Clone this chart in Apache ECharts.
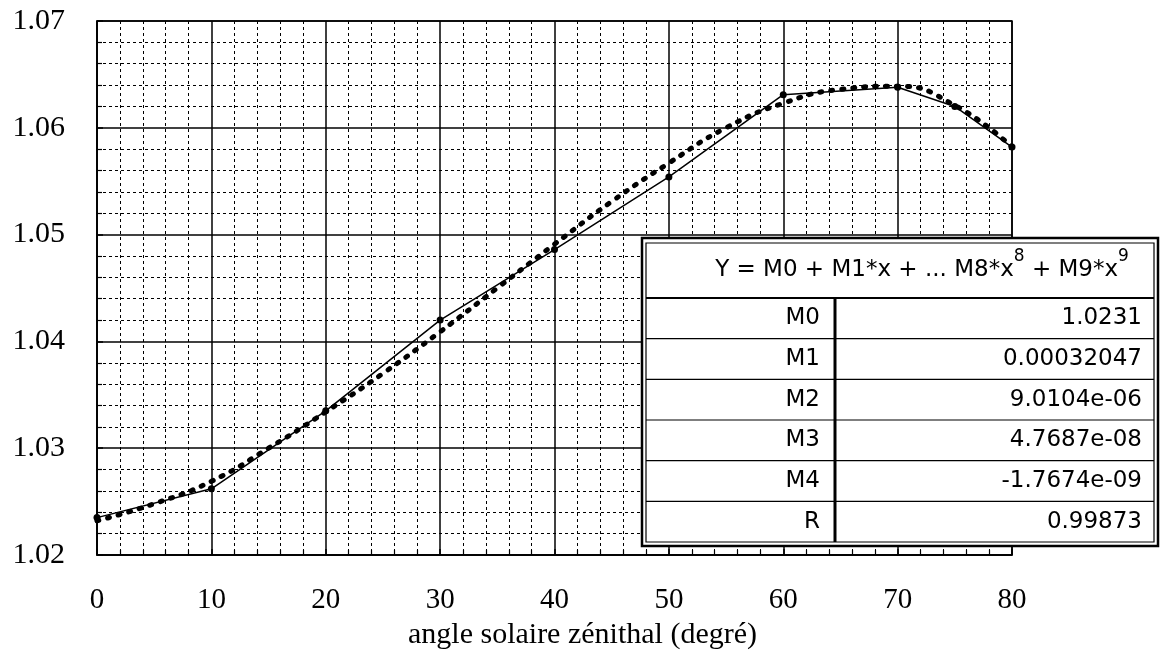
<!DOCTYPE html>
<html>
<head>
<meta charset="utf-8">
<script src="https://cdn.jsdelivr.net/npm/echarts@6/dist/echarts.min.js"></script>
<style>
  html, body { margin: 0; padding: 0; background: #fff; }
  #chart { width: 1161px; height: 667px; }
</style>
</head>
<body>
<div id="chart"></div>
<script>
// mesures (trait plein avec points)
const measAngles = [0, 10, 20, 30, 40, 50, 60, 70, 75, 80];
const measValues = [1.0235, 1.0262, 1.0335, 1.0420, 1.0486, 1.0554, 1.0631, 1.0638, 1.0620, 1.0582];

// ajustement polynomial (pointillé)
const fitAngles = [0, 5, 10, 15, 20, 25, 30, 35, 40, 45, 50, 55, 60, 65, 70, 75, 80];
const fitValues = [1.0232, 1.0248, 1.0269, 1.0300, 1.0334, 1.0370, 1.0409, 1.0450, 1.0491, 1.0531,
                   1.0567, 1.0600, 1.0623, 1.0636, 1.0639, 1.0621, 1.0582];

// tableau des coefficients
const coefNames = ['M0', 'M1', 'M2', 'M3', 'M4', 'R'];
const coefValues = ['1.0231', '0.00032047', '9.0104e-06', '4.7687e-08', '-1.7674e-09', '0.99873'];

const serif = 'Liberation Serif';
const sans = 'DejaVu Sans';

let chart = echarts.init(document.getElementById('chart'));

// graphic du tableau
function buildTable() {
    let els = [];
    let x0 = 642, x1 = 1158, y0 = 238, y1 = 546;
    let ix0 = 646, ix1 = 1154, iy0 = 243, iy1 = 542;
    let headBottom = 298, colX = 835;
    let rowH = (iy1 - headBottom) / coefNames.length;

    els.push({ type: 'rect', z: 100, shape: { x: x0, y: y0, width: x1 - x0, height: y1 - y0 },
        style: { fill: '#fff', stroke: '#000', lineWidth: 2.5 } });
    els.push({ type: 'rect', z: 101, shape: { x: ix0, y: iy0, width: ix1 - ix0, height: iy1 - iy0 },
        style: { fill: '#fff', stroke: '#000', lineWidth: 1.2 } });
    els.push({ type: 'line', z: 102, shape: { x1: ix0, y1: headBottom, x2: ix1, y2: headBottom },
        style: { stroke: '#000', lineWidth: 2 } });
    els.push({ type: 'line', z: 102, shape: { x1: colX, y1: headBottom, x2: colX, y2: iy1 },
        style: { stroke: '#000', lineWidth: 3 } });

    els.push({
        type: 'text', z: 103, x: 922, y: (iy0 + headBottom) / 2,
        style: {
            text: '{t|Y = M0 + M1*x + ... M8*x}{s|8}{t| + M9*x}{s|9}',
            align: 'center', verticalAlign: 'middle',
            rich: {
                t: { fontFamily: sans, fontSize: 23, lineHeight: 44, fill: '#000' },
                s: { fontFamily: sans, fontSize: 17, lineHeight: 12, verticalAlign: 'top', fill: '#000' }
            }
        }
    });

    coefNames.forEach(function (name, i) {
        let top = headBottom + i * rowH;
        if (i > 0) {
            els.push({ type: 'line', z: 102, shape: { x1: ix0, y1: top, x2: ix1, y2: top },
                style: { stroke: '#000', lineWidth: 1.2 } });
        }
        els.push({ type: 'text', z: 103, x: 820, y: top + rowH / 2,
            style: { text: name, align: 'right', verticalAlign: 'middle',
                fontFamily: sans, fontSize: 23, fill: '#000' } });
        els.push({ type: 'text', z: 103, x: 1142, y: top + rowH / 2,
            style: { text: coefValues[i], align: 'right', verticalAlign: 'middle',
                fontFamily: sans, fontSize: 23, fill: '#000' } });
    });
    return els;
}

let option = {
    backgroundColor: '#fff',
    animation: false,
    grid: {
        left: 97, top: 21, right: 149, bottom: 112,
        show: true, borderColor: '#000', borderWidth: 1.5, backgroundColor: 'transparent'
    },
    xAxis: {
        type: 'value',
        min: 0, max: 80, interval: 10,
        name: 'angle solaire zénithal (degré)',
        nameLocation: 'middle',
        nameGap: 61,
        nameTextStyle: { fontFamily: serif, fontSize: 30, color: '#000', padding: [0, 0, 0, 56] },
        axisLine: { show: true, lineStyle: { color: '#000', width: 1.5 } },
        axisTick: { show: true, inside: true, length: 6, lineStyle: { color: '#000', width: 1.5 } },
        minorTick: { show: true, splitNumber: 5, length: 5, lineStyle: { color: '#000', width: 1.2 } },
        axisLabel: { margin: 31, fontFamily: serif, fontSize: 29, color: '#000' },
        splitLine: { show: true, lineStyle: { color: '#000', width: 1.5 } },
        minorSplitLine: { show: true, lineStyle: { color: '#000', width: 1, type: [3, 3] } }
    },
    yAxis: {
        type: 'value',
        min: 1.02, max: 1.07, interval: 0.01,
        axisLine: { show: true, lineStyle: { color: '#000', width: 1.5 } },
        axisTick: { show: true, inside: true, length: 6, lineStyle: { color: '#000', width: 1.5 } },
        minorTick: { show: true, splitNumber: 5, length: 5, lineStyle: { color: '#000', width: 1.2 } },
        axisLabel: {
            margin: 32, fontFamily: serif, fontSize: 30, color: '#000',
            formatter: function (v) { return v.toFixed(2); }
        },
        splitLine: { show: true, lineStyle: { color: '#000', width: 1.5 } },
        minorSplitLine: { show: true, lineStyle: { color: '#000', width: 1, type: [3, 3] } }
    },
    series: [
        {
            name: 'ajustement',
            type: 'line',
            smooth: true,
            showSymbol: false,
            z: 3,
            lineStyle: { color: '#000', width: 5, type: [2, 9], cap: 'round' },
            data: fitAngles.map(function (a, i) { return [a, fitValues[i]]; })
        },
        {
            name: 'mesure',
            type: 'line',
            symbol: 'circle',
            symbolSize: 7,
            z: 4,
            itemStyle: { color: '#000' },
            lineStyle: { color: '#000', width: 1.5 },
            data: measAngles.map(function (a, i) { return [a, measValues[i]]; })
        }
    ],
    graphic: buildTable()
};
chart.setOption(option, true);
</script>
</body>
</html>
